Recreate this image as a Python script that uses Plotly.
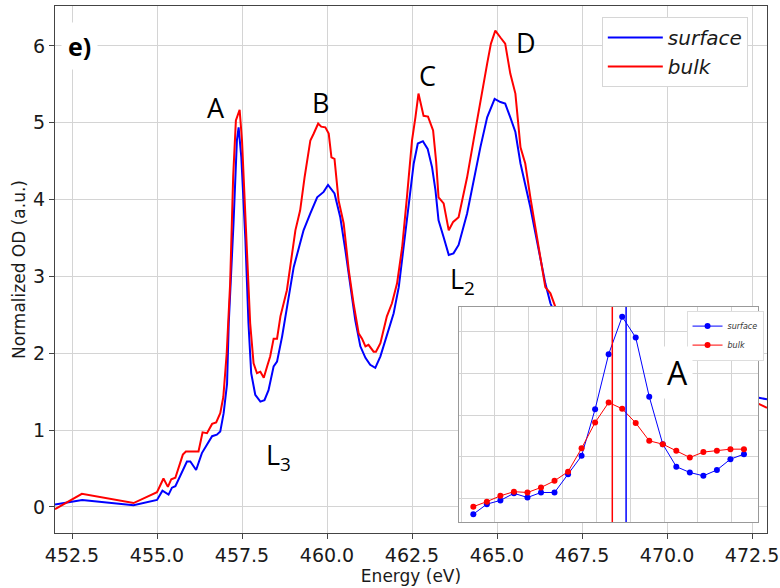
import plotly.graph_objects as go

# ---------------- main spectra ----------------
energy_surface = [452.0, 452.8, 454.31, 455.0, 455.16, 455.34, 455.44, 455.54, 455.88, 455.98,
                  456.15, 456.32, 456.62, 456.76, 456.86, 456.96, 457.06, 457.11, 457.25, 457.35,
                  457.40, 457.48, 457.60, 457.69, 457.77, 457.89, 458.04, 458.16, 458.28, 458.43,
                  458.53, 458.68, 459.02, 459.16, 459.31, 459.51, 459.71, 459.90, 460.03, 460.22,
                  460.39, 460.54, 460.69, 460.83, 460.98, 461.13, 461.27, 461.42, 461.57, 461.76,
                  461.96, 462.11, 462.25, 462.40, 462.55, 462.67, 462.82, 462.96, 463.09, 463.19,
                  463.28, 463.43, 463.58, 463.72, 463.87, 464.12, 464.31, 464.51, 464.71, 464.93,
                  465.10, 465.24, 465.39, 465.54, 465.69, 465.83, 465.98, 466.13, 466.27, 466.42,
                  466.57, 467.0, 467.5, 468.0, 469.0, 470.0, 471.0, 472.0, 472.7, 472.94]
od_surface = [0.03, 0.09, 0.02, 0.09, 0.21, 0.16, 0.25, 0.27, 0.59, 0.59,
              0.48, 0.70, 0.92, 0.94, 0.98, 1.22, 1.60, 2.39, 3.69, 4.77,
              4.94, 4.55, 3.47, 2.39, 1.74, 1.46, 1.37, 1.39, 1.52, 1.83,
              1.89, 2.22, 3.12, 3.34, 3.60, 3.82, 4.03, 4.10, 4.19, 4.08,
              3.77, 3.34, 2.86, 2.43, 2.09, 1.94, 1.85, 1.81, 1.96, 2.22,
              2.52, 2.86, 3.38, 3.99, 4.47, 4.73, 4.76, 4.66, 4.42, 4.12,
              3.73, 3.51, 3.28, 3.30, 3.41, 3.82, 4.25, 4.68, 5.07, 5.31,
              5.27, 5.25, 5.07, 4.88, 4.47, 4.21, 3.90, 3.56, 3.25, 2.91,
              2.65, 2.20, 1.80, 1.60, 1.50, 1.45, 1.43, 1.42, 1.42, 1.40]

energy_bulk = [452.0, 452.79, 454.31, 455.0, 455.19, 455.32, 455.42, 455.54, 455.76, 455.85,
               456.22, 456.34, 456.47, 456.62, 456.74, 456.86, 456.95, 457.05, 457.15, 457.24,
               457.32, 457.43, 457.50, 457.65, 457.74, 457.84, 457.94, 458.04, 458.14, 458.24,
               458.33, 458.43, 458.53, 458.63, 458.82, 459.07, 459.21, 459.34, 459.51, 459.61,
               459.74, 459.83, 459.95, 460.05, 460.13, 460.22, 460.34, 460.49, 460.64, 460.78,
               460.93, 461.03, 461.13, 461.22, 461.37, 461.44, 461.57, 461.76, 461.91, 462.06,
               462.21, 462.35, 462.50, 462.60, 462.69, 462.84, 462.97, 463.12, 463.21, 463.28,
               463.43, 463.58, 463.71, 463.87, 464.12, 464.31, 464.51, 464.71, 464.82, 464.95,
               465.10, 465.24, 465.39, 465.54, 465.69, 465.83, 465.98, 466.13, 466.27, 466.42,
               466.57, 466.71, 467.0, 467.5, 468.0, 469.0, 470.0, 471.0, 472.0, 472.7, 472.94]
od_bulk = [-0.03, 0.17, 0.05, 0.19, 0.37, 0.26, 0.36, 0.38, 0.68, 0.72,
           0.72, 0.97, 0.96, 1.08, 1.10, 1.22, 1.43, 2.00, 2.90, 4.30,
           5.03, 5.17, 4.77, 3.25, 2.39, 1.87, 1.74, 1.76, 1.68, 1.83,
           1.96, 2.19, 2.19, 2.48, 2.82, 3.60, 3.86, 4.29, 4.77, 4.86,
           4.99, 4.95, 4.94, 4.86, 4.55, 4.53, 3.99, 3.69, 3.08, 2.65,
           2.26, 2.19, 2.09, 2.11, 2.02, 2.02, 2.13, 2.48, 2.65, 2.91,
           3.38, 4.03, 4.77, 5.07, 5.38, 5.09, 5.08, 4.90, 4.49, 4.03,
           3.95, 3.60, 3.71, 3.77, 4.29, 4.77, 5.29, 5.77, 6.03, 6.20,
           6.11, 6.03, 5.64, 5.38, 4.68, 4.47, 4.03, 3.64, 3.30, 2.86,
           2.78, 2.61, 2.30, 1.95, 1.70, 1.50, 1.42, 1.38, 1.36, 1.34, 1.29]

# ---------------- inset: peak A zoom (arbitrary units) ----------------
inset_energy = [456.34, 456.44, 456.54, 456.64, 456.74, 456.84, 456.94, 457.04, 457.14, 457.24,
                457.34, 457.44, 457.54, 457.64, 457.74, 457.84, 457.94, 458.04, 458.14, 458.24, 458.34]
inset_surface = [0.62, 0.86, 0.95, 1.12, 1.02, 1.14, 1.14, 1.58, 2.02, 3.14,
                 4.46, 5.36, 4.86, 3.44, 2.30, 1.76, 1.62, 1.54, 1.68, 1.94, 2.06]
inset_bulk = [0.80, 0.92, 1.06, 1.16, 1.14, 1.26, 1.42, 1.64, 2.20, 2.82,
              3.30, 3.15, 2.81, 2.38, 2.30, 2.14, 1.98, 2.11, 2.14, 2.18, 2.18]
inset_peak_bulk = 457.367
inset_peak_surface = 457.469

x_ticks = [452.5, 455.0, 457.5, 460.0, 462.5, 465.0, 467.5, 470.0, 472.5]
y_ticks = [0, 1, 2, 3, 4, 5, 6]

BLUE = "#0000ff"
RED = "#ff0000"
GRID = "#d4d4d4"
TXT = "#1a1a1a"
LABEL_FONT = "Open Sans"

fig = go.Figure()
fig.add_trace(go.Scatter(x=energy_surface, y=od_surface, mode="lines", name="<i>surface</i>",
                         line=dict(color=BLUE, width=2), legend="legend", xaxis="x", yaxis="y"))
fig.add_trace(go.Scatter(x=energy_bulk, y=od_bulk, mode="lines", name="<i>bulk</i>",
                         line=dict(color=RED, width=2), legend="legend", xaxis="x", yaxis="y"))

fig.add_trace(go.Scatter(x=inset_energy, y=inset_surface, mode="lines+markers", name="<i>surface</i>",
                         line=dict(color=BLUE, width=1), marker=dict(color=BLUE, size=6),
                         legend="legend2", xaxis="x2", yaxis="y2"))
fig.add_trace(go.Scatter(x=inset_energy, y=inset_bulk, mode="lines+markers", name="<i>bulk</i>",
                         line=dict(color=RED, width=1), marker=dict(color=RED, size=6),
                         legend="legend2", xaxis="x2", yaxis="y2"))

inset_xr = [456.234, 458.444]
inset_yr = [0.432, 5.592]

shapes = [
    # opaque background of the inset, drawn in the inset's own layer
    dict(type="rect", xref="x2", yref="y2", x0=inset_xr[0], x1=inset_xr[1],
         y0=inset_yr[0], y1=inset_yr[1], fillcolor="white", line=dict(width=0), layer="below"),
    dict(type="line", xref="x2", yref="y2 domain", x0=inset_peak_bulk, x1=inset_peak_bulk,
         y0=0, y1=1, line=dict(color=RED, width=1.5)),
    dict(type="line", xref="x2", yref="y2 domain", x0=inset_peak_surface, x1=inset_peak_surface,
         y0=0, y1=1, line=dict(color=BLUE, width=1.5)),
]

def lab(text, x, y, size=27, **kw):
    d = dict(text=text, x=x, y=y, xref="paper", yref="paper", showarrow=False,
             font=dict(family=LABEL_FONT, size=size, color="black"),
             xanchor="center", yanchor="middle")
    d.update(kw)
    return d

annotations = [
    lab("A", 0.2261, 0.8083),
    lab("B", 0.3722, 0.8178),
    lab("C", 0.5225, 0.8672),
    lab("D", 0.6615, 0.9298),
    lab("L<sub>3</sub>", 0.314, 0.145),
    lab("L<sub>2</sub>", 0.5725, 0.479),
    lab("<b>e)</b>", 0.0351, 0.924, size=25, bgcolor="white", borderpad=6),
    lab("A", 0.8745, 0.3055, size=32, bgcolor="white", borderpad=4),
]

fig.update_layout(
    width=780, height=588,
    margin=dict(l=55, r=13, t=6, b=55),
    paper_bgcolor="white", plot_bgcolor="white",
    font=dict(family="DejaVu Sans", color=TXT),
    xaxis=dict(range=[452.0, 472.94], tickvals=x_ticks, tickformat=".1f",
               showgrid=True, gridcolor=GRID, gridwidth=1, zeroline=False,
               showline=True, mirror=True, linecolor="#444", linewidth=1.2,
               ticks="outside", ticklen=5, tickcolor="#444",
               tickfont=dict(size=19, color=TXT), automargin=False,
               title=dict(text="Energy (eV)", font=dict(size=17, color=TXT), standoff=0),
               domain=[0, 1], anchor="y"),
    yaxis=dict(range=[-0.34, 6.52], tickvals=y_ticks,
               showgrid=True, gridcolor=GRID, gridwidth=1, zeroline=False,
               showline=True, mirror=True, linecolor="#444", linewidth=1.2,
               ticks="outside", ticklen=5, tickcolor="#444",
               tickfont=dict(size=19, color=TXT), automargin=False,
               title=dict(text="Normalized OD (a.u.)", font=dict(size=17, color=TXT), standoff=3),
               domain=[0, 1], anchor="x"),
    xaxis2=dict(range=inset_xr, domain=[0.5674, 0.9874], anchor="y2",
                tick0=456.5, dtick=0.25, showticklabels=False, ticks="",
                showgrid=True, gridcolor=GRID, zeroline=False,
                showline=True, mirror=True, linecolor="#999", linewidth=1),
    yaxis2=dict(range=inset_yr, domain=[0.0209, 0.4288], anchor="x2",
                tick0=0, dtick=1, showticklabels=False, ticks="",
                showgrid=True, gridcolor=GRID, zeroline=False,
                showline=True, mirror=True, linecolor="#999", linewidth=1),
    legend=dict(x=0.768, y=0.979, xanchor="left", yanchor="top",
                bgcolor="white", bordercolor="#d6d6d6", borderwidth=1,
                itemwidth=55,
                font=dict(family="DejaVu Sans", size=20, color=TXT)),
    legend2=dict(x=0.887, y=0.422, xanchor="left", yanchor="top",
                 bgcolor="white", bordercolor="#dddddd", borderwidth=1,
                 font=dict(family="DejaVu Sans", size=8, color="#333")),
    shapes=shapes,
    annotations=annotations,
)

fig.write_html("out.html", config={"displayModeBar": False},
               post_script="document.body.style.margin='0px';document.body.style.overflow='hidden';")
